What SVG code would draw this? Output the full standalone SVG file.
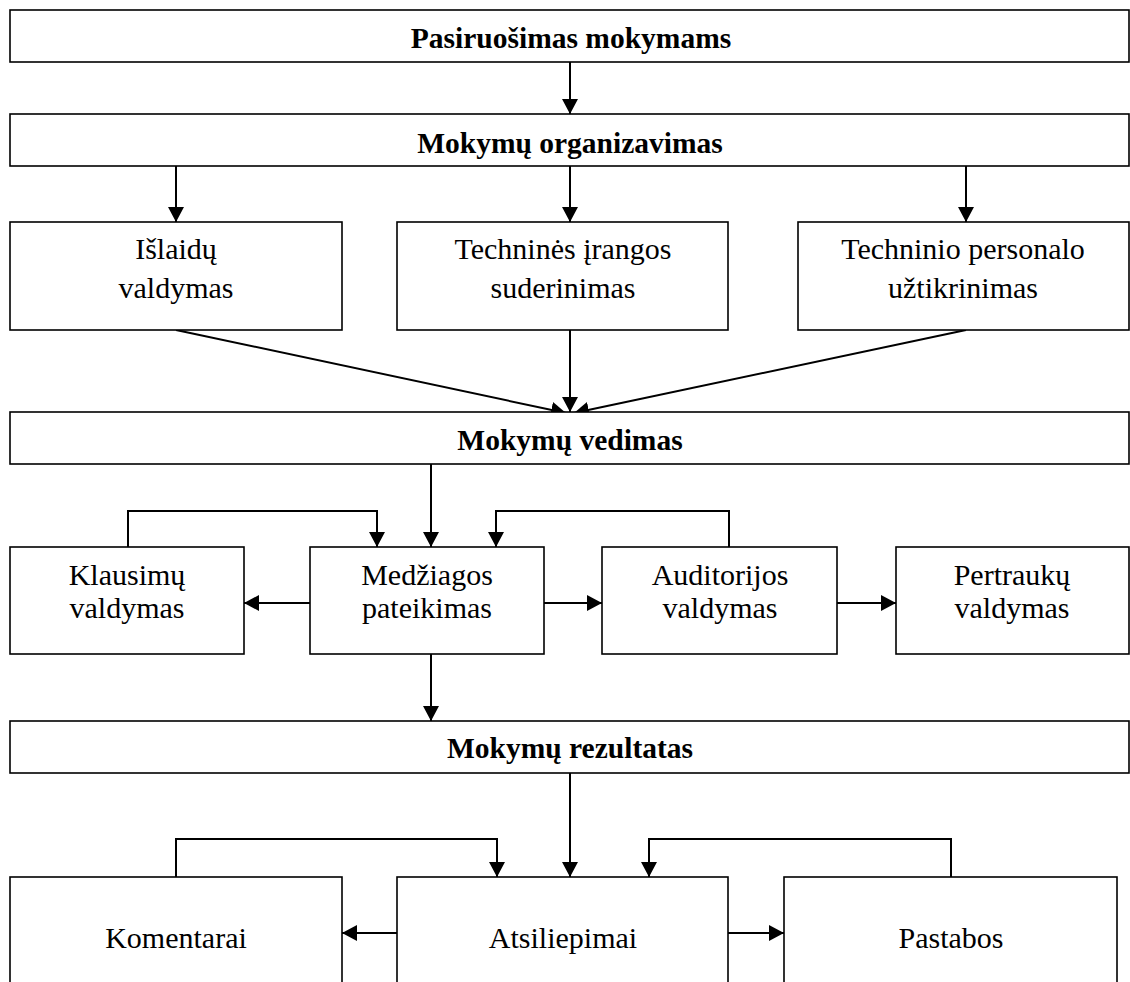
<svg xmlns="http://www.w3.org/2000/svg" width="1130" height="982" viewBox="0 0 1130 982">
<style>
.box{fill:#fff;stroke:#000;stroke-width:1.6}
.t{font-family:"Liberation Serif","Times New Roman",serif;font-size:30px;fill:#000;text-anchor:middle}
.b{font-family:"Liberation Serif","Times New Roman",serif;font-size:29.5px;font-weight:bold;fill:#000;text-anchor:middle}
.c{fill:none;stroke:#000;stroke-width:2}
</style>
<defs>
<marker id="ah" markerUnits="userSpaceOnUse" markerWidth="17" markerHeight="17" refX="15" refY="8" orient="auto">
<path d="M0,0 L15,8 L0,16 z" fill="#000"/>
</marker>
</defs>
<rect width="1130" height="982" fill="#fff"/>
<g id="connectors">
<line class="c" x1="570" y1="62" x2="570" y2="114" marker-end="url(#ah)"/>
<line class="c" x1="176" y1="166" x2="176" y2="222" marker-end="url(#ah)"/>
<line class="c" x1="570" y1="166" x2="570" y2="222" marker-end="url(#ah)"/>
<line class="c" x1="966" y1="166" x2="966" y2="222" marker-end="url(#ah)"/>
<line class="c" x1="176" y1="330" x2="566" y2="413" marker-end="url(#ah)"/>
<line class="c" x1="570" y1="330" x2="570" y2="412" marker-end="url(#ah)"/>
<line class="c" x1="966" y1="330" x2="574" y2="413" marker-end="url(#ah)"/>
<line class="c" x1="431" y1="464" x2="431" y2="547" marker-end="url(#ah)"/>
<polyline class="c" points="128,547 128,511 377,511 377,547" marker-end="url(#ah)"/>
<polyline class="c" points="729,547 729,511 496,511 496,547" marker-end="url(#ah)"/>
<line class="c" x1="310" y1="603" x2="244" y2="603" marker-end="url(#ah)"/>
<line class="c" x1="544" y1="603" x2="602" y2="603" marker-end="url(#ah)"/>
<line class="c" x1="837" y1="603" x2="896" y2="603" marker-end="url(#ah)"/>
<line class="c" x1="431" y1="654" x2="431" y2="721" marker-end="url(#ah)"/>
<line class="c" x1="570" y1="773" x2="570" y2="877" marker-end="url(#ah)"/>
<polyline class="c" points="176,877 176,839 497,839 497,877" marker-end="url(#ah)"/>
<polyline class="c" points="951,877 951,839 649,839 649,877" marker-end="url(#ah)"/>
<line class="c" x1="397" y1="933" x2="342" y2="933" marker-end="url(#ah)"/>
<line class="c" x1="728" y1="933" x2="784" y2="933" marker-end="url(#ah)"/>
</g>
<g id="pasiruosimas"><rect class="box" x="10" y="10" width="1119" height="52"/><text class="b" x="571" y="47.5">Pasiruošimas mokymams</text></g>
<g id="organizavimas"><rect class="box" x="10" y="114" width="1119" height="52"/><text class="b" x="570" y="152.5">Mokymų organizavimas</text></g>
<g id="islaidu"><rect class="box" x="10" y="222" width="332" height="108"/><text class="t" x="176" y="259">Išlaidų</text><text class="t" x="176" y="298">valdymas</text></g>
<g id="technines"><rect class="box" x="397" y="222" width="331" height="108"/><text class="t" x="563" y="259">Techninės įrangos</text><text class="t" x="563" y="298">suderinimas</text></g>
<g id="techninio"><rect class="box" x="798" y="222" width="331" height="108"/><text class="t" x="963" y="259">Techninio personalo</text><text class="t" x="963" y="298">užtikrinimas</text></g>
<g id="vedimas"><rect class="box" x="10" y="412" width="1119" height="52"/><text class="b" x="570" y="450">Mokymų vedimas</text></g>
<g id="klausimu"><rect class="box" x="10" y="547" width="234" height="107"/><text class="t" x="127" y="585">Klausimų</text><text class="t" x="127" y="618">valdymas</text></g>
<g id="medziagos"><rect class="box" x="310" y="547" width="234" height="107"/><text class="t" x="427" y="585">Medžiagos</text><text class="t" x="427" y="618">pateikimas</text></g>
<g id="auditorijos"><rect class="box" x="602" y="547" width="235" height="107"/><text class="t" x="720" y="585">Auditorijos</text><text class="t" x="720" y="618">valdymas</text></g>
<g id="pertrauku"><rect class="box" x="896" y="547" width="233" height="107"/><text class="t" x="1012" y="585">Pertraukų</text><text class="t" x="1012" y="618">valdymas</text></g>
<g id="rezultatas"><rect class="box" x="10" y="721" width="1119" height="52"/><text class="b" x="570" y="758">Mokymų rezultatas</text></g>
<g id="komentarai"><rect class="box" x="10" y="877" width="332" height="120"/><text class="t" x="176" y="948">Komentarai</text></g>
<g id="atsiliepimai"><rect class="box" x="397" y="877" width="331" height="120"/><text class="t" x="563" y="948">Atsiliepimai</text></g>
<g id="pastabos"><rect class="box" x="784" y="877" width="333" height="120"/><text class="t" x="951" y="948">Pastabos</text></g>
</svg>
